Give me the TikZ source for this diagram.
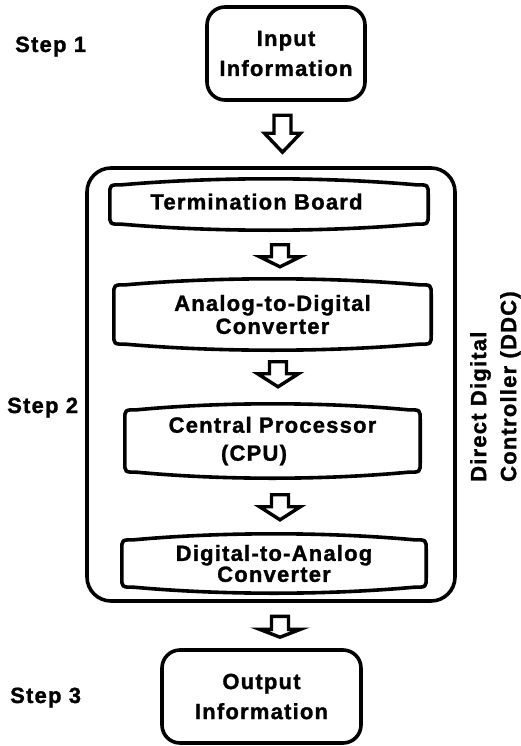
\documentclass[tikz,border=0pt]{standalone}
\usepackage{fontspec}
\setmainfont{Liberation Sans}[LetterSpace=5.5, FakeBold=1.3]
\usetikzlibrary{calc}

\tikzset{
  lbl/.style={font=\bfseries\fontsize{22}{30}\selectfont, inner sep=0pt, align=center},
  boxline/.style={draw=black, line width=3.6pt, line join=round},
  arrowline/.style={draw=black, line width=3.4pt, line join=miter},
  roundbox/.style={lbl, boxline, rounded corners=18pt},
  softnode/.style={lbl, draw=none}
}

% rounded box whose top and bottom edges bow outwards
\newcommand\softbox[1]{%
  \draw[boxline]
    ($(#1.north west)+(0,-16)$) -- ($(#1.south west)+(0,16)$)
    .. controls ($(#1.south west)+(0,6)$) .. ($(#1.south west)+(12,6)$)
    .. controls ($(#1.south west)!0.33!(#1.south east)+(0,-2)$)
       and ($(#1.south west)!0.67!(#1.south east)+(0,-2)$) .. ($(#1.south east)+(-12,6)$)
    .. controls ($(#1.south east)+(0,6)$) .. ($(#1.south east)+(0,16)$)
    -- ($(#1.north east)+(0,-16)$)
    .. controls ($(#1.north east)+(0,-6)$) .. ($(#1.north east)+(-12,-6)$)
    .. controls ($(#1.north west)!0.67!(#1.north east)+(0,2)$)
       and ($(#1.north west)!0.33!(#1.north east)+(0,2)$) .. ($(#1.north west)+(12,-6)$)
    .. controls ($(#1.north west)+(0,-6)$) .. ($(#1.north west)+(0,-16)$) -- cycle;
}

% hollow block arrow: source, target, x offset, gap below source,
% gap above target, shaft length, half width of head
\newcommand\hollowarrow[7]{%
  \draw[arrowline] let \p1=($(#1.south)+(#3,-#4)$), \p2=($(#2.north)+(#3,#5)$) in
    ({\x1-8.5},\y1) -- ({\x1+8.5},\y1) -- ({\x1+8.5},{\y1-#6})
    -- ({\x1+#7},{\y1-#6}) -- (\x1,\y2) -- ({\x1-#7},{\y1-#6})
    -- ({\x1-8.5},{\y1-#6}) -- cycle;
}

\begin{document}
\begin{tikzpicture}[x=1pt,y=1pt]
  \useasboundingbox (0,0) rectangle (520,-746);

  % controller frame
  \node[boxline, rounded corners=24pt, minimum width=368pt, minimum height=433pt, inner sep=0pt]
    (ddc) at (271,-384.5) {};

  % input and output
  \node[roundbox, minimum width=158pt, minimum height=93pt] (inp) at (286,-53.5) {Input\\Information};
  \node[roundbox, minimum width=199pt, minimum height=93pt] (out) at (261.5,-696.5) {Output\\Information};

  % stages inside the controller
  \node[softnode, minimum width=318pt, minimum height=51pt, text depth=6pt]
    (tb) at (269,-204.5) {Termination Board\hspace*{25pt}};
  \node[softnode, minimum width=317pt, minimum height=71pt, font=\bfseries\fontsize{22}{23}\selectfont]
    (adc) at (272.5,-314.5) {Analog-to-Digital\\Converter};
  \node[softnode, minimum width=295pt, minimum height=74pt, font=\bfseries\fontsize{22}{28}\selectfont]
    (cpu) at (272.5,-441) {Central Processor\\\hspace*{-37pt}(CPU)};
  \node[softnode, minimum width=304pt, minimum height=59pt, font=\bfseries\fontsize{22}{21}\selectfont]
    (dac) at (274,-563.5) {Digital-to-Analog\\Converter};
  \softbox{tb}
  \softbox{adc}
  \softbox{cpu}
  \softbox{dac}

  % flow arrows
  \hollowarrow{inp}{ddc}{-3.5}{13.5}{14}{18}{18}
  \hollowarrow{tb}{adc}{11}{14.5}{12}{12}{20.5}
  \hollowarrow{adc}{cpu}{5.5}{11.5}{17}{12}{20.5}
  \hollowarrow{cpu}{dac}{7.5}{16.5}{14}{12}{20.5}
  \hollowarrow{ddc}{out}{9}{13.5}{11}{13}{20.5}

  % side labels
  \node[lbl, anchor=base west] (s1) at (15,-52) {Step 1};
  \node[lbl, anchor=base west] (s2) at (7,-413) {Step 2};
  \node[lbl, anchor=base west] (s3) at (10,-703) {Step 3};
  \node[lbl, align=left, rotate=90, anchor=north west] (ddclbl) at (470,-482)
    {Direct Digital\\Controller (DDC)};
\end{tikzpicture}
\end{document}
